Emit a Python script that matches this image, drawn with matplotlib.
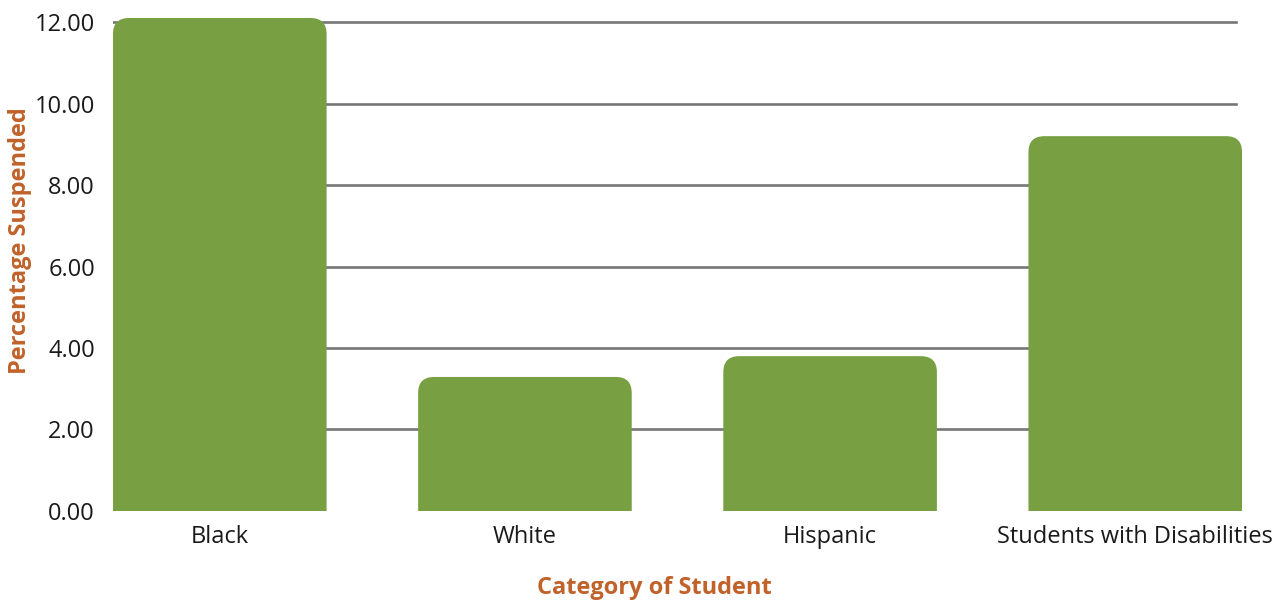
import matplotlib.pyplot as plt
from matplotlib.patches import FancyBboxPatch
import numpy as np

categories = ['Black', 'White', 'Hispanic', 'Students with Disabilities']
values = [12.1, 3.29, 3.8, 9.2]
yticks = [0, 2, 4, 6, 8, 10, 12]

bar_color = '#78A042'
label_color = '#C0622A'
grid_color = '#767676'

plt.rcParams['font.family'] = ['Open Sans', 'DejaVu Sans']

fig = plt.figure(figsize=(12.81, 6.02), dpi=100)
ax = fig.add_axes([0.0882, 0.1512, 0.8814, 0.8189])

x = np.arange(len(categories))
bar_width = 0.7
ax.set_xlim(-0.35, 3.35)
ax.set_ylim(0, 12.1)

# gridlines behind the bars
for t in yticks[1:]:
    ax.plot([-0.35, 3.33], [t, t], color=grid_color, linewidth=1.9, zorder=1)

# aspect so the rounded corners look circular on screen
fig.canvas.draw()
bbox = ax.get_window_extent()
px_per_x = bbox.width / (3.35 + 0.35)
px_per_y = bbox.height / 12.1
aspect = px_per_x / px_per_y
radius = 16 / px_per_x

# bars: rounded top corners, bottom pushed below 0 so it is clipped square
bars = ax.bar(x, values, bar_width, color=bar_color, alpha=0)
for rect in bars:
    x0 = rect.get_x()
    w = rect.get_width()
    h = rect.get_height()
    patch = FancyBboxPatch((x0, -1), w, h + 1,
                           boxstyle='round,pad=0,rounding_size=%f' % radius,
                           mutation_aspect=aspect,
                           facecolor=bar_color, edgecolor='none', zorder=2)
    ax.add_patch(patch)

for s in ax.spines.values():
    s.set_visible(False)

ax.set_xticks(x)
ax.set_xticklabels(categories, fontsize=17, color='#1a1a1a')
ax.set_yticks(yticks)
ax.set_yticklabels(['%.2f' % t for t in yticks], fontsize=17, color='#1a1a1a')
ax.tick_params(axis='both', length=0)
ax.tick_params(axis='y', pad=13)
ax.tick_params(axis='x', pad=10)

fig.text(0.511, 0.023, 'Category of Student', ha='center', va='center',
         fontsize=17, fontweight='bold', color=label_color)
fig.text(0.0156, 0.6, 'Percentage Suspended', ha='center', va='center',
         rotation=90, fontsize=17, fontweight='bold', color=label_color)

fig.savefig('out.png', dpi=100)
